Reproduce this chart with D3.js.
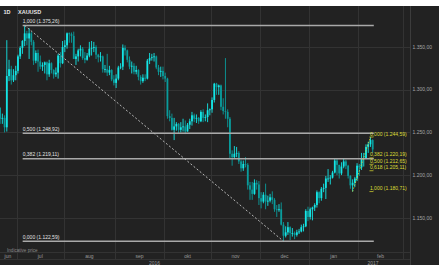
<!DOCTYPE html>
<html>
<head>
<meta charset="utf-8">
<script src="https://cdn.jsdelivr.net/npm/d3@7"></script>
<style>
body { margin: 0; background: #fff; }
svg { display: block; font-family: "Liberation Sans", Arial, sans-serif; }
</style>
</head>
<body>
<div class="main"></div>
<script>
// daily XAUUSD candles
var dates = [
"2016-06-21","2016-06-22","2016-06-23","2016-06-24","2016-06-27","2016-06-28","2016-06-29","2016-06-30",
"2016-07-01","2016-07-04","2016-07-05","2016-07-06","2016-07-07","2016-07-08","2016-07-11","2016-07-12","2016-07-13","2016-07-14","2016-07-15","2016-07-18","2016-07-19","2016-07-20","2016-07-21","2016-07-22","2016-07-25","2016-07-26","2016-07-27","2016-07-28","2016-07-29",
"2016-08-01","2016-08-02","2016-08-03","2016-08-04","2016-08-05","2016-08-08","2016-08-09","2016-08-10","2016-08-11","2016-08-12","2016-08-15","2016-08-16","2016-08-17","2016-08-18","2016-08-19","2016-08-22","2016-08-23","2016-08-24","2016-08-25","2016-08-26","2016-08-29","2016-08-30","2016-08-31",
"2016-09-01","2016-09-02","2016-09-05","2016-09-06","2016-09-07","2016-09-08","2016-09-09","2016-09-12","2016-09-13","2016-09-14","2016-09-15","2016-09-16","2016-09-19","2016-09-20","2016-09-21","2016-09-22","2016-09-23","2016-09-26","2016-09-27","2016-09-28","2016-09-29","2016-09-30",
"2016-10-03","2016-10-04","2016-10-05","2016-10-06","2016-10-07","2016-10-10","2016-10-11","2016-10-12","2016-10-13","2016-10-14","2016-10-17","2016-10-18","2016-10-19","2016-10-20","2016-10-21","2016-10-24","2016-10-25","2016-10-26","2016-10-27","2016-10-28","2016-10-31",
"2016-11-01","2016-11-02","2016-11-03","2016-11-04","2016-11-07","2016-11-08","2016-11-09","2016-11-10","2016-11-11","2016-11-14","2016-11-15","2016-11-16","2016-11-17","2016-11-18","2016-11-21","2016-11-22","2016-11-23","2016-11-24","2016-11-25","2016-11-28","2016-11-29","2016-11-30",
"2016-12-01","2016-12-02","2016-12-05","2016-12-06","2016-12-07","2016-12-08","2016-12-09","2016-12-12","2016-12-13","2016-12-14","2016-12-15","2016-12-16","2016-12-19","2016-12-20","2016-12-21","2016-12-22","2016-12-23","2016-12-26","2016-12-27","2016-12-28","2016-12-29","2016-12-30",
"2017-01-02","2017-01-03","2017-01-04","2017-01-05","2017-01-06","2017-01-09","2017-01-10","2017-01-11","2017-01-12","2017-01-13","2017-01-16","2017-01-17","2017-01-18","2017-01-19","2017-01-20","2017-01-23","2017-01-24","2017-01-25","2017-01-26","2017-01-27","2017-01-30","2017-01-31",
"2017-02-01","2017-02-02","2017-02-03","2017-02-06","2017-02-07","2017-02-08","2017-02-09"
];
var open = [
1279,1266,1267,1256,1316,1324,1311,1317,
1322,1339,1349,1357,1366,1360,1366,1356,1334,1343,1333,1327,1329,1332,1318,1331,1323,1318,1320,1340,1331,
1350,1352,1366,1365,1363,1336,1339,1346,1348,1337,1335,1340,1348,1349,1350,1341,1338,1339,1324,1324,1320,1323,1312,
1308,1313,1326,1327,1349,1346,1335,1327,1328,1321,1323,1315,1310,1314,1313,1334,1337,1338,1339,1326,1321,1322,
1316,1313,1269,1267,1253,1257,1260,1253,1256,1257,1251,1259,1263,1270,1266,1267,1263,1274,1267,1268,1276,
1277,1288,1307,1303,1305,1280,1275,1274,1266,1225,1221,1225,1226,1216,1208,1213,1212,1188,1183,1178,1191,1189,
1173,1169,1177,1169,1170,1174,1171,1160,1159,1160,1142,1129,1133,1139,1132,1132,1130,1133,1134,1139,1140,1158,
1151,1160,1162,1165,1180,1173,1184,1185,1196,1196,1197,1203,1217,1212,1202,1210,1216,1211,1199,1188,1191,1196,
1211,1209,1219,1220,1233,1236,1241
];
var high = [
1279,1272,1270,1358,1335,1328,1324,1328,
1341,1351,1358,1375.26,1369,1372,1368,1358,1346,1347,1340,1332,1333,1333,1335,1332,1324,1326,1342,1344,1357,
1358,1367,1367,1367,1368,1342,1348,1352,1350,1344,1343,1356,1357,1356,1352,1342,1344,1340,1329,1342,1328,1324,1317,
1318,1328,1331,1353,1352,1347,1339,1333,1331,1328,1324,1317,1318,1318,1336,1343,1342,1343,1340,1329,1327,1327,
1320,1314,1276,1272,1267,1262,1261,1262,1266,1264,1261,1266,1274,1272,1271,1268,1276,1277,1271,1284,1278,
1291,1308,1308,1306,1306,1290,1337,1277,1268,1229,1234,1233,1228,1218,1217,1221,1214,1192,1192,1195,1194,1193,
1180,1180,1190,1176,1178,1181,1173,1165,1166,1168,1145,1140,1145,1140,1138,1134,1136,1137,1142,1143,1160,1163,
1162,1163,1167,1182,1181,1186,1190,1199,1207,1200,1205,1219,1220,1212,1215,1220,1218,1212,1200,1195,1198,1214,
1213,1226,1226,1236,1239,1244.59,1242
];
var low = [
1260,1260,1250,1251,1310,1306,1309,1311,
1319,1336,1342,1351,1352,1336,1352,1329,1331,1321,1324,1322,1319,1311,1315,1319,1313,1315,1313,1326,1330,
1344,1348,1355,1355,1336,1329,1333,1339,1335,1331,1334,1338,1340,1344,1336,1332,1333,1320,1320,1316,1317,1310,1305,
1302,1311,1324,1323,1340,1332,1324,1319,1318,1318,1311,1306,1308,1310,1312,1330,1334,1333,1324,1317,1315,1312,
1309,1266,1263,1252,1241,1252,1249,1250,1251,1248,1251,1254,1258,1262,1261,1260,1262,1262,1263,1262,1270,
1273,1285,1294,1294,1276,1271,1266,1256,1220,1211,1219,1221,1213,1204,1205,1209,1183,1171,1171,1177,1183,1165,
1161,1167,1160,1164,1168,1166,1157,1151,1157,1141,1122.59,1127,1130,1124,1128,1125,1128,1131,1133,1134,1139,1146,
1148,1147,1158,1162,1167,1170,1180,1172,1192,1189,1196,1202,1200,1196,1200,1208,1207,1196,1184,1180.71,1186,1193,
1199,1206,1210,1219,1226,1233,1226
];
var close = [
1266,1267,1256,1316,1324,1311,1317,1322,
1339,1349,1357,1366,1360,1366,1356,1334,1343,1333,1327,1329,1332,1318,1331,1323,1318,1320,1340,1331,1350,
1352,1366,1365,1363,1336,1339,1346,1348,1337,1335,1340,1348,1349,1350,1341,1338,1339,1324,1324,1320,1323,1312,1308,
1313,1326,1327,1349,1346,1335,1327,1328,1321,1323,1315,1310,1314,1313,1334,1337,1338,1339,1326,1321,1322,1316,
1313,1269,1267,1253,1257,1260,1253,1256,1257,1251,1259,1263,1270,1266,1267,1263,1274,1267,1268,1276,1277,
1288,1307,1303,1305,1280,1275,1274,1266,1225,1221,1225,1226,1216,1208,1213,1212,1188,1183,1178,1191,1189,1173,
1169,1177,1169,1170,1174,1171,1160,1159,1160,1142,1129,1133,1139,1132,1132,1130,1133,1134,1139,1140,1158,1151,
1160,1162,1165,1180,1173,1184,1185,1196,1196,1197,1203,1217,1212,1202,1210,1216,1211,1199,1188,1191,1196,1211,
1209,1219,1220,1233,1236,1241,1230
];

// axis
var axisStart = "2016-06-21", axisEnd = "2017-03-03";
var yTicks = [1150, 1200, 1250, 1300, 1350];
var monthLabels = ["jun","jul","aug","sep","okt","nov","dec","jan","feb"];
var yearLabels = ["2016","2017"];

// fibonacci drawings: [date, price] anchors
var fibA = {from: ["2016-07-06", 1375.26], to: ["2016-12-15", 1122.59]};
var fibARatios = [1, 0.5, 0.382, 0];
var fibB = {from: ["2017-01-27", 1180.71], to: ["2017-02-08", 1244.59]};
var fibBRatios = [0, 0.382, 0.5, 0.618, 1];

var W = 439, H = 274;
var plotRight = 410, plotTop = 6, priceBottom = 252.5, monthBottom = 259.5, panelBottom = 265;

var svg = d3.select(".main").append("svg")
.attr("width", W)
.attr("height", H);

svg.append("rect")
.attr("x", 0).attr("y", plotTop)
.attr("width", W).attr("height", panelBottom - plotTop)
.attr("fill", "#222222");

var fmtDay = d3.timeFormat("%Y-%m-%d"), parseDay = d3.timeParse("%Y-%m-%d");
var days = d3.timeDay.range(parseDay(axisStart), d3.timeDay.offset(parseDay(axisEnd), 1))
.filter(function(d){ var w = d.getDay(); return w > 0 && w < 6; })
.map(fmtDay);

var x = d3.scaleBand().domain(days).range([-1, 409.5]);
var y = d3.scaleLinear().domain([1150, 1350]).range([217.8, 47]);
var cx = function(d){ return x(d) + x.bandwidth() / 2; };

var loc = d3.formatLocale({decimal: ",", thousands: ".", grouping: [3], currency: ["", ""]});
var fPrice = loc.format(",.2f"), fRatio = loc.format(".3f");

// months
var months = d3.groups(days, function(d){ return d.slice(0, 7); }).map(function(g, i){
    var list = g[1];
    return {key: g[0], x0: x(list[0]), x1: x(list[list.length - 1]) + x.bandwidth(), label: monthLabels[i]};
});

var grid = svg.append("g").attr("stroke", "#333333").attr("stroke-width", 1);

grid.selectAll(".hg")
.data(yTicks)
.enter().append("line")
.attr("x1", 0).attr("x2", plotRight)
.attr("y1", function(d){ return Math.round(y(d)) + 0.5; })
.attr("y2", function(d){ return Math.round(y(d)) + 0.5; });

grid.selectAll(".vg")
.data(months.slice(1))
.enter().append("line")
.attr("x1", function(d){ return Math.round(d.x0) + 0.5; })
.attr("x2", function(d){ return Math.round(d.x0) + 0.5; })
.attr("y1", plotTop)
.attr("y2", function(d){ return d.key == "2017-01" ? panelBottom : monthBottom; });

grid.append("line").attr("x1", 0).attr("x2", plotRight).attr("y1", priceBottom).attr("y2", priceBottom);
grid.append("line").attr("x1", 0).attr("x2", plotRight).attr("y1", monthBottom).attr("y2", monthBottom);
grid.append("line").attr("x1", plotRight + 0.5).attr("x2", plotRight + 0.5).attr("y1", plotTop).attr("y2", panelBottom)
.attr("stroke", "#3c3c3c");

// y axis labels
svg.append("g")
.selectAll("text")
.data(yTicks)
.enter().append("text")
.attr("x", 412.5)
.attr("y", function(d){ return y(d); })
.attr("dy", "0.35em")
.attr("font-size", 5)
.attr("fill", "#a6a6a6")
.text(fPrice);

// month labels
svg.append("g")
.selectAll("text")
.data(months.filter(function(d){ return d.label; }))
.enter().append("text")
.attr("x", function(d){ return (Math.max(d.x0, -1) + Math.min(d.x1, plotRight)) / 2; })
.attr("y", 258)
.attr("text-anchor", "middle")
.attr("font-size", 5)
.attr("fill", "#9a9a9a")
.text(function(d){ return d.label; });

// year labels
var yearSplit = x("2017-01-02");
svg.append("g")
.selectAll("text")
.data(yearLabels)
.enter().append("text")
.attr("x", function(d, i){ return i == 0 ? yearSplit / 2 : (yearSplit + W - 2) / 2; })
.attr("y", 264.5)
.attr("text-anchor", "middle")
.attr("font-size", 5)
.attr("fill", "#9a9a9a")
.text(function(d){ return d; });

// header
svg.append("text").attr("x", 3.5).attr("y", 14).attr("font-size", 5.5).attr("font-weight", "bold")
.attr("fill", "#e6e6e6").text("1D");
svg.append("text").attr("x", 18).attr("y", 14).attr("font-size", 5.5).attr("font-weight", "bold")
.attr("fill", "#e6e6e6").text("XAUUSD");
svg.append("text").attr("x", 7).attr("y", 251.5).attr("font-size", 4.6)
.attr("fill", "#8a8a8a").text("Indicative price");

// candles
var candles = dates.map(function(d, i){
    return {date: d, o: open[i], h: high[i], l: low[i], c: close[i]};
});
svg.append("clipPath").attr("id", "plotclip")
.append("rect").attr("x", 0).attr("y", plotTop).attr("width", plotRight).attr("height", priceBottom - plotTop);

var bar = svg.append("g")
.attr("clip-path", "url(#plotclip)")
.selectAll(".candle")
.data(candles)
.enter().append("g")
.attr("class", "candle")
.attr("fill", function(d){ return d.c >= d.o ? "#14e6e6" : "#0a9c9c"; })
.attr("stroke", function(d){ return d.c >= d.o ? "#14e6e6" : "#0a9c9c"; });

bar.append("line")
.attr("x1", function(d){ return cx(d.date); })
.attr("x2", function(d){ return cx(d.date); })
.attr("y1", function(d){ return y(d.h); })
.attr("y2", function(d){ return y(d.l); })
.attr("stroke-width", 0.9);

bar.append("rect")
.attr("x", function(d){ return cx(d.date) - x.bandwidth() * 0.4; })
.attr("width", x.bandwidth() * 0.8)
.attr("y", function(d){ return y(Math.max(d.o, d.c)); })
.attr("height", function(d){ return Math.max(0.8, Math.abs(y(d.o) - y(d.c))); })
.attr("stroke", "none");

// big fibonacci retracement
var aHi = fibA.from[1], aLo = fibA.to[1];
var aX0 = cx(fibA.from[0]), aX1 = x(dates[dates.length - 1]) + x.bandwidth();
var fibAg = svg.append("g");
fibAg.selectAll("line")
.data(fibARatios)
.enter().append("line")
.attr("x1", aX0 - 2).attr("x2", aX1)
.attr("y1", function(r){ return y(aLo + r * (aHi - aLo)); })
.attr("y2", function(r){ return y(aLo + r * (aHi - aLo)); })
.attr("stroke", "#a9a9a9")
.attr("stroke-width", 1.5);
fibAg.selectAll("text")
.data(fibARatios)
.enter().append("text")
.attr("x", aX0 - 2)
.attr("y", function(r){ return y(aLo + r * (aHi - aLo)) - 2.5; })
.attr("font-size", 5)
.attr("fill", "#e2e2e2")
.text(function(r){ return fRatio(r) + " (" + fPrice(aLo + r * (aHi - aLo)) + ")"; });
fibAg.append("line")
.attr("x1", aX0).attr("y1", y(aHi))
.attr("x2", cx(fibA.to[0])).attr("y2", y(aLo))
.attr("stroke", "#b8b8b8")
.attr("stroke-width", 1)
.attr("stroke-dasharray", "2,2");

// small fibonacci retracement
var bLo = fibB.from[1], bHi = fibB.to[1];
var bX0 = cx(fibB.from[0]), bX1 = cx(fibB.to[0]);
var fibBg = svg.append("g");
fibBg.selectAll("line")
.data(fibBRatios)
.enter().append("line")
.attr("x1", bX1 - 1).attr("x2", bX1 + 3)
.attr("y1", function(r){ return y(bHi - r * (bHi - bLo)); })
.attr("y2", function(r){ return y(bHi - r * (bHi - bLo)); })
.attr("stroke", "#c8c830")
.attr("stroke-width", 0.8);
fibBg.selectAll("text")
.data(fibBRatios)
.enter().append("text")
.attr("x", bX1 - 0.5)
.attr("y", function(r){ return y(bHi - r * (bHi - bLo)) - 1.5; })
.attr("font-size", 5)
.attr("fill", "#dede36")
.text(function(r){ return fRatio(r) + " (" + fPrice(bHi - r * (bHi - bLo)) + ")"; });
fibBg.append("line")
.attr("x1", bX0).attr("y1", y(bLo))
.attr("x2", bX1).attr("y2", y(bHi))
.attr("stroke", "#d6d630")
.attr("stroke-width", 0.8)
.attr("stroke-dasharray", "1.5,1.5");
</script>
</body>
</html>
